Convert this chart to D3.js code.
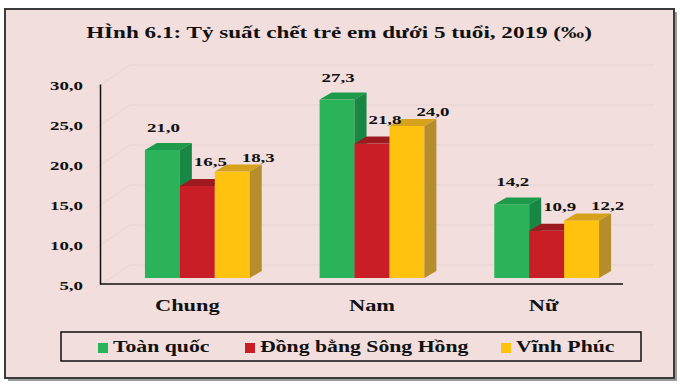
<!DOCTYPE html>
<html>
<head>
<meta charset="utf-8">
<script src="https://cdn.jsdelivr.net/npm/d3@7"></script>
<style>
  body { margin: 0; background: #fff; }
  svg text { font-family: "Liberation Serif", "Times New Roman", Times, serif !important; font-weight: bold; fill: #111; }
</style>
</head>
<body>
<div id="chart"></div>
<script>
var categories = ["Chung", "Nam", "Nữ"];
var seriesNames = ["Toàn quốc", "Đồng bằng Sông Hồng", "Vĩnh Phúc"];
var toanQuoc = [21.0, 27.3, 14.2];
var dbSongHong = [16.5, 21.8, 10.9];
var vinhPhuc = [18.3, 24.0, 12.2];
var yTicks = [5, 10, 15, 20, 25, 30];
var title = "HÌnh 6.1: Tỷ suất chết trẻ em dưới 5 tuổi, 2019 (‰)";

var W = 680, H = 386;
var SX = 1.4; // chu trong anh goc bi keo ngang
var fmt = function(v){ return d3.format(".1f")(v).replace(".", ","); };

// mau: mat truoc, mat tren, mat ben
var colors = [
  {front: "#2bb35a", top: "#1e9a4b", side: "#178743"},
  {front: "#c91e26", top: "#9c1a20", side: "#8e171c"},
  {front: "#fec20f", top: "#d6a11c", side: "#b58d2a"}
];
var labelOff = [[1, -23], [13, -25], [26, -15]];
var catOff = [-10, 0, -3];
var depthX = 12, depthY = -7;

var values = [toanQuoc, dbSongHong, vinhPhuc];

var svg = d3.select("#chart").append("svg")
  .attr("width", W).attr("height", H)
  .attr("font-family", "Liberation Serif");

// khung ngoai
svg.append("rect").attr("x", 8).attr("y", 12).attr("width", 669).attr("height", 369)
  .attr("fill", "#9a9a9a");
svg.append("rect").attr("x", 5).attr("y", 9).attr("width", 669).attr("height", 369)
  .attr("fill", "#f2dedd").attr("stroke", "#3a3a3a").attr("stroke-width", 2);

function stext(g, x, y, str, size, anchor, sx){
  return g.append("text")
    .attr("transform", "translate(" + x + "," + y + ") scale(" + (sx || SX) + ",1)")
    .attr("text-anchor", anchor || "middle")
    .attr("font-size", size)
    .text(str);
}

stext(svg, 339, 38, title, 17, "middle", 1.36);

var yBar = d3.scaleLinear().domain([5, 30]).range([278, 78]);
var yAx = d3.scaleLinear().domain([5, 30]).range([284, 84]);
var x0 = d3.scaleBand().domain(categories).range([110, 634]).paddingInner(0.4).paddingOuter(0.2);
var x1 = d3.scaleBand().domain(d3.range(seriesNames.length)).range([0, x0.bandwidth()]);

// luoi o tuong sau va tuong ben
var grid = svg.append("g");
yTicks.forEach(function(t){
  var yb = yBar(t) - 13;
  grid.append("line").attr("x1", 130).attr("x2", 655).attr("y1", yb).attr("y2", yb)
    .attr("stroke", "#e4d3d1").attr("stroke-width", 1);
  grid.append("line").attr("x1", 96).attr("x2", 130).attr("y1", yb + 23).attr("y2", yb)
    .attr("stroke", "#e4d3d1").attr("stroke-width", 1);
});

// truc
var yAxis = svg.append("g").attr("transform", "translate(100,0)")
  .call(d3.axisLeft(yAx).tickValues(yTicks).tickSize(0).tickSizeOuter(0).tickFormat(fmt));
yAxis.attr("font-family", null);
yAxis.select(".domain").attr("stroke", "#111").attr("stroke-width", 1.5);
yAxis.selectAll("text")
  .attr("font-size", 13.5).attr("fill", "#111")
  .attr("x", -17 / SX).attr("dy", "0.38em")
  .attr("transform", "scale(" + SX + ",1)");

svg.append("line").attr("x1", 100).attr("x2", 623).attr("y1", 284).attr("y2", 284)
  .attr("stroke", "#111").attr("stroke-width", 1.5);

// cot 3D
var bars = svg.append("g");
categories.forEach(function(c, ci){
  values.forEach(function(arr, si){
    var v = arr[ci];
    var x = x0(c) + x1(si), w = x1.bandwidth();
    var yt = yBar(v), yb = yBar(5);
    var g = bars.append("g");
    g.append("rect").attr("x", x).attr("y", yt).attr("width", w).attr("height", yb - yt)
      .attr("fill", colors[si].front);
    g.append("polygon").attr("fill", colors[si].top)
      .attr("points", [[x, yt], [x + depthX, yt + depthY], [x + w + depthX, yt + depthY], [x + w, yt]].join(" "));
    g.append("polygon").attr("fill", colors[si].side)
      .attr("points", [[x + w, yt], [x + w + depthX, yt + depthY], [x + w + depthX, yb + depthY], [x + w, yb]].join(" "));
  });
});

// nhan gia tri
var labels = svg.append("g");
categories.forEach(function(c, ci){
  values.forEach(function(arr, si){
    var v = arr[ci];
    var cx = x0(c) + x1(si) + x1.bandwidth() / 2 + labelOff[si][0];
    var cy = yBar(v) + labelOff[si][1];
    stext(labels, cx, cy + 5, fmt(v), 13.5);
  });
});

// nhan nhom
categories.forEach(function(c, ci){
  stext(svg, x0(c) + x0.bandwidth() / 2 + catOff[ci], 311, c, 16);
});

// chu giai
var legend = svg.append("g");
legend.append("rect").attr("x", 61).attr("y", 332).attr("width", 580).attr("height", 29)
  .attr("fill", "none").attr("stroke", "#111").attr("stroke-width", 1.5);
var legX = [98, 245, 501];
seriesNames.forEach(function(n, i){
  legend.append("rect").attr("x", legX[i]).attr("y", 343).attr("width", 10).attr("height", 10)
    .attr("fill", colors[i].front);
  stext(legend, legX[i] + 15, 352, n, 16, "start", 1.36);
});
</script>
</body>
</html>
